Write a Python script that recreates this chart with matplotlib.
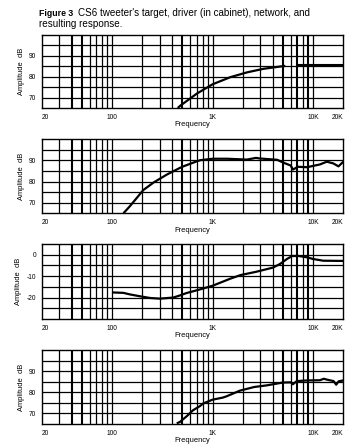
import numpy as np
import matplotlib
matplotlib.use("Agg")
import matplotlib.pyplot as plt

plt.rcParams['font.family'] = ['Liberation Sans', 'DejaVu Sans']

# ---------------- data ----------------
title_bold = "Figure 3"
title_rest = "CS6 tweeter's target, driver (in cabinet), network, and"
title_line2 = "resulting response."

x_tick_vals = [20, 100, 1000, 10000, 20000]
x_tick_labels = ["20", "100", "1K", "10K", "20K"]
x_label = "Frequency"
y_label = "Amplitude  dB"

target_f = [451, 475, 700, 1000, 1500, 2200, 3200, 4700, 5300, 6000, 6900, 10000, 20000]
target_db = [65.0, 66.0, 71.9, 76.3, 79.7, 82.0, 83.7, 84.8, 85.1, np.nan, 85.5, 85.5, 85.5]

driver_f = [130, 151, 205, 260, 351, 475, 513, 700, 752, 1000, 1400, 2200, 2700,
            3000, 4400, 5100, 6000, 6300, 7100, 8700, 11700, 13700, 15900, 17900, 20000]
driver_db = [65.0, 68.4, 76.0, 79.6, 83.3, 86.5, 87.2, 89.6, 90.1, 90.8, 90.8, 90.4, 91.2,
             90.9, 90.3, 88.9, 87.6, 85.7, 87.0, 86.8, 88.1, 89.4, 88.6, 87.2, 89.4]

network_f = [100, 130, 150, 190, 240, 300, 406, 475, 550, 700, 1000, 1500, 1900, 2700,
             4000, 4700, 5500, 6200, 7200, 8700, 10000, 12600, 20000]
network_db = [-17.6, -17.8, -18.5, -19.4, -20.2, -20.5, -20.0, -19.0, -17.9, -16.6, -14.5, -11.2,
              -9.5, -8.0, -6.0, -4.3, -2.0, -0.6, -0.6, -1.2, -2.0, -2.8, -2.9]

result_f = [441, 475, 555, 640, 752, 808, 1000, 1270, 1380, 1880, 2600, 3500, 4000, 5000,
            6000, 6300, 6900, 8700, 11700, 12800, 13700, 16000, 17000, 18000, 20000]
result_db = [65.3, 66.0, 68.7, 71.5, 73.5, 74.7, 76.5, 77.5, 78.1, 80.8, 82.5, 83.3, 83.8, 84.6,
             84.7, 83.8, 85.3, 85.6, 85.7, 86.4, 86.0, 85.3, 83.6, 85.2, 85.6]

panels = [
    (target_f, target_db, (65, 100), [70, 80, 90], [70, 75, 80, 85, 90, 95]),
    (driver_f, driver_db, (65, 100), [70, 80, 90], [70, 75, 80, 85, 90, 95]),
    (network_f, network_db, (-30, 5), [-20, -10, 0], [-25, -20, -15, -10, -5, 0]),
    (result_f, result_db, (65, 100), [70, 80, 90], [70, 75, 80, 85, 90, 95]),
]

# ---------------- layout ----------------
W, H = 354, 445
fig = plt.figure(figsize=(W / 100, H / 100), dpi=100)
fig.patch.set_facecolor('white')

left_px, right_px = 41.7, 343.3
tops_bottoms = [(34.7, 108.0), (139.3, 213.3), (244.0, 319.0), (350.0, 424.0)]

freq_grid = []
for dec in [10, 100, 1000, 10000]:
    for m in range(1, 10):
        v = m * dec
        if 20 < v < 20000:
            freq_grid.append(v)
thick_v = {40, 50, 500, 5000, 7000, 9000}

fs_tick = 4.8
for (f, db, ylim, yt, hgrid), (top, bot) in zip(panels, tops_bottoms):
    ax = fig.add_axes([left_px / W, 1 - bot / H, (right_px - left_px) / W, (bot - top) / H])
    ax.set_xscale('log')
    ax.set_xlim(20, 20000)
    ax.set_ylim(*ylim)
    for v in freq_grid:
        ax.axvline(v, color='black', lw=1.5 if v in thick_v else 0.9, zorder=1)
    for h in hgrid:
        ax.axhline(h, color='black', lw=0.9, zorder=1)
    ax.plot(f, db, color='black', lw=1.6, zorder=3, solid_capstyle='butt')
    for s in ax.spines.values():
        s.set_linewidth(1.0)
    ax.minorticks_off()
    ax.tick_params(length=0, labelsize=fs_tick, pad=4)
    ax.set_xticks(x_tick_vals)
    ax.set_xticklabels(x_tick_labels)
    labs = ax.get_xticklabels()
    labs[0].set_ha('left')
    labs[-1].set_ha('right')
    ax.set_yticks(yt)
    ax.set_yticklabels([str(v) for v in yt])
    ax.set_xlabel(x_label, fontsize=5.4, labelpad=0.5)
    ax.set_ylabel(y_label, fontsize=5.4, labelpad=3)

fig.text(39 / W, 1 - 16 / H, title_bold, fontsize=6.3, fontweight='bold', ha='left', va='baseline')
fig.text(78 / W, 1 - 16 / H, title_rest, fontsize=7.1, ha='left', va='baseline')
fig.text(39 / W, 1 - 27 / H, title_line2, fontsize=7.1, ha='left', va='baseline')

fig.savefig('out.png', dpi=100)
